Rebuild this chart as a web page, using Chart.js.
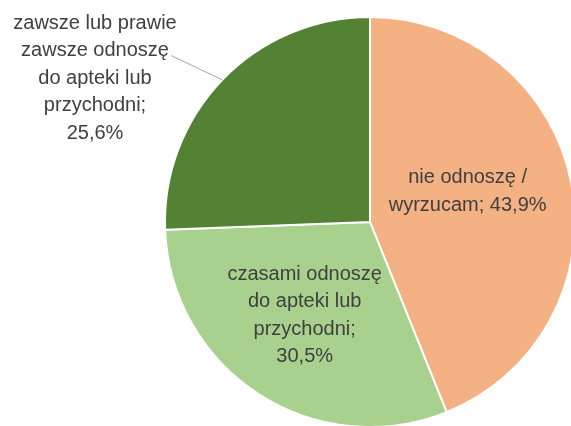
<!DOCTYPE html>
<html>
<head>
<meta charset="utf-8">
<script src="https://cdn.jsdelivr.net/npm/chart.js@4"></script>
<style>
  html, body { margin: 0; padding: 0; background: #fff; overflow: hidden; }
  #wrap { width: 571px; height: 426px; overflow: hidden; position: relative; }
  #wrap canvas { position: absolute; left: 0; top: 0; }
</style>
</head>
<body>
<div id="wrap"><canvas id="pie-chart" width="580" height="432"></canvas></div>
<script>
// Dane wykresu (kolejność zgodna z ruchem wskazówek zegara od góry)
const categories = ['nie odnoszę / wyrzucam', 'czasami odnoszę do apteki lub przychodni', 'zawsze lub prawie zawsze odnoszę do apteki lub przychodni'];
const values = [43.9, 30.5, 25.6];
const labelLines = [
    ['nie odnoszę /', 'wyrzucam; 43,9%'],
    ['czasami odnoszę', 'do apteki lub', 'przychodni;', '30,5%'],
    ['zawsze lub prawie', 'zawsze odnoszę', 'do apteki lub', 'przychodni;', '25,6%']
];
const colors = ['#F4B183', '#A9D18E', '#548235'];

// Położenie etykiet: ułamek promienia + przesunięcie (etykieta 3 jest poza wykresem)
const labelPlace = [
    { r: 0.5, dx: -3, dy: -11 },
    { r: 0.55, dx: -4, dy: -1 },
    { r: 1.0, dx: -275, dy: -199, leader: true }
];

const FONT = '20px "Liberation Sans", Arial, sans-serif';
const LINE_H = 27.5;

const labelPlugin = {
    id: 'pieLabels',
    afterDatasetsDraw(chart) {
        const ctx = chart.ctx;
        const meta = chart.getDatasetMeta(0);
        ctx.save();
        ctx.font = FONT;
        ctx.fillStyle = '#404040';
        ctx.textAlign = 'center';
        ctx.textBaseline = 'middle';
        meta.data.forEach((arc, i) => {
            const p = labelPlace[i];
            const lines = labelLines[i];
            const mid = (arc.startAngle + arc.endAngle) / 2;
            let cx, cy;
            if (p.leader) {
                // etykieta zewnętrzna z linią odniesienia do środka łuku
                const px = arc.x + Math.cos(mid) * arc.outerRadius;
                const py = arc.y + Math.sin(mid) * arc.outerRadius;
                const top = arc.y + p.dy;
                cx = arc.x + p.dx;
                cy = top + ((lines.length - 1) * LINE_H) / 2;
                const tx = 171, ty = top + LINE_H + 5;
                ctx.strokeStyle = '#A6A6A6';
                ctx.lineWidth = 1;
                ctx.beginPath();
                ctx.moveTo(tx, ty);
                ctx.lineTo(px, py);
                ctx.stroke();
            } else {
                cx = arc.x + Math.cos(mid) * arc.outerRadius * p.r + p.dx;
                cy = arc.y + Math.sin(mid) * arc.outerRadius * p.r + p.dy;
            }
            const top = cy - ((lines.length - 1) * LINE_H) / 2;
            lines.forEach((t, k) => ctx.fillText(t, cx, top + k * LINE_H));
        });
        ctx.restore();
    }
};

new Chart(document.getElementById('pie-chart').getContext('2d'), {
    type: 'pie',
    data: {
        labels: categories,
        datasets: [{
            data: values,
            backgroundColor: colors,
            borderColor: '#fff',
            borderWidth: 2
        }]
    },
    options: {
        responsive: false,
        animation: false,
        layout: { padding: { left: 164, top: 16, right: 4, bottom: 4 } },
        plugins: {
            legend: { display: false },
            tooltip: { enabled: false }
        }
    },
    plugins: [labelPlugin]
});
</script>
</body>
</html>
